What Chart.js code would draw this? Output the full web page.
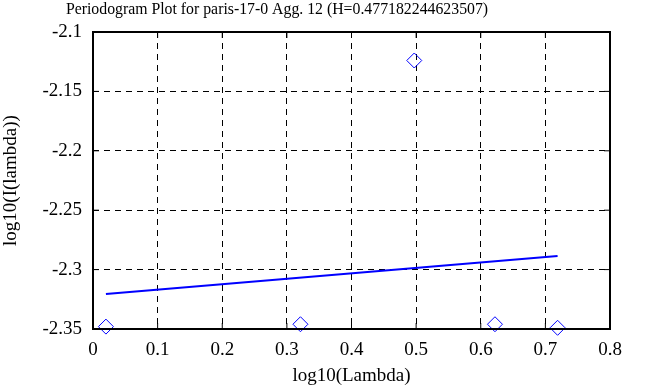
<!DOCTYPE html>
<html>
<head>
<meta charset="utf-8">
<script src="https://cdn.jsdelivr.net/npm/chart.js@4"></script>
<style>
  html, body { margin: 0; padding: 0; background: #fff; }
  #wrap { width: 663px; height: 387px; }
</style>
</head>
<body>
<div id="wrap"><canvas id="periodogram"></canvas></div>
<script>
// log10(lambda) for the periodogram points, and log10(I(lambda))
const lambdaLog = [0.0200, 0.3210, 0.4971, 0.6220, 0.7189];
const powerLog = [-2.348, -2.346, -2.124, -2.346, -2.349];
// fitted line end points
const fitX = [0.0200, 0.7189];
const fitY = [-2.3205, -2.2886];

const titleText = 'Periodogram Plot for paris-17-0 Agg. 12 (H=0.477182244623507)';
const serif = '"Liberation Serif", "DejaVu Serif", serif';

// frame + inward tick marks, and the title (it sits left of centre in the original)
const framePlugin = {
    id: 'frame',
    afterDraw(chart) {
        const { ctx, chartArea: a, scales } = chart;
        ctx.save();
        ctx.strokeStyle = '#000';
        ctx.lineWidth = 1;
        ctx.beginPath();
        scales.x.ticks.forEach(t => {
            const px = scales.x.getPixelForValue(t.value);
            ctx.moveTo(px, a.top); ctx.lineTo(px, a.top + 6);
            ctx.moveTo(px, a.bottom); ctx.lineTo(px, a.bottom - 6);
        });
        scales.y.ticks.forEach(t => {
            const py = scales.y.getPixelForValue(t.value);
            ctx.moveTo(a.left, py); ctx.lineTo(a.left + 6, py);
            ctx.moveTo(a.right, py); ctx.lineTo(a.right - 6, py);
        });
        ctx.stroke();
        ctx.lineWidth = 2;
        ctx.strokeRect(a.left, a.top, a.right - a.left, a.bottom - a.top);

        ctx.fillStyle = '#000';
        ctx.font = '15.8px ' + serif;
        ctx.textAlign = 'center';
        ctx.textBaseline = 'middle';
        ctx.fillText(titleText, 277, 10);
        ctx.restore();
    }
};

new Chart(document.getElementById('periodogram'), {
    type: 'scatter',
    data: {
        datasets: [
            {
                label: 'fit',
                data: fitX.map((x, i) => ({ x: x, y: fitY[i] })),
                showLine: true,
                borderColor: '#0000ff',
                borderWidth: 2,
                pointRadius: 0
            },
            {
                label: 'periodogram',
                data: lambdaLog.map((x, i) => ({ x: x, y: powerLog[i] })),
                pointStyle: 'rectRot',
                pointRadius: 7.5,
                backgroundColor: 'rgba(0,0,0,0)',
                borderColor: '#0000ff',
                borderWidth: 1,
                clip: false
            }
        ]
    },
    options: {
        responsive: true,
        maintainAspectRatio: false,
        animation: false,
        layout: { padding: { left: 0, right: 53, top: 32, bottom: 0 } },
        plugins: {
            legend: { display: false },
            tooltip: { enabled: false },
            title: { display: false }
        },
        scales: {
            x: {
                type: 'linear',
                min: 0,
                max: 0.8,
                afterFit: s => { s.height = 58; },
                ticks: {
                    stepSize: 0.1,
                    color: '#000',
                    padding: 10,
                    font: { family: serif, size: 19 },
                    callback: v => String(Number(v.toFixed(2)))
                },
                grid: { color: '#000', drawTicks: false },
                border: { display: false, dash: [6, 5] },
                title: {
                    display: true,
                    text: 'log10(Lambda)',
                    color: '#000',
                    font: { family: serif, size: 19 },
                    padding: { top: 0, bottom: 0 }
                }
            },
            y: {
                type: 'linear',
                min: -2.35,
                max: -2.1,
                afterFit: s => { s.width = 93; },
                ticks: {
                    stepSize: 0.05,
                    color: '#000',
                    padding: 11,
                    font: { family: serif, size: 19 },
                    callback: v => String(Number(v.toFixed(2)))
                },
                grid: { color: '#000', drawTicks: false },
                border: { display: false, dash: [6, 5] },
                title: {
                    display: true,
                    text: 'log10(I(lambda))',
                    color: '#000',
                    font: { family: serif, size: 19 },
                    padding: { top: 0, bottom: 2 }
                }
            }
        }
    },
    plugins: [framePlugin]
});
</script>
</body>
</html>
